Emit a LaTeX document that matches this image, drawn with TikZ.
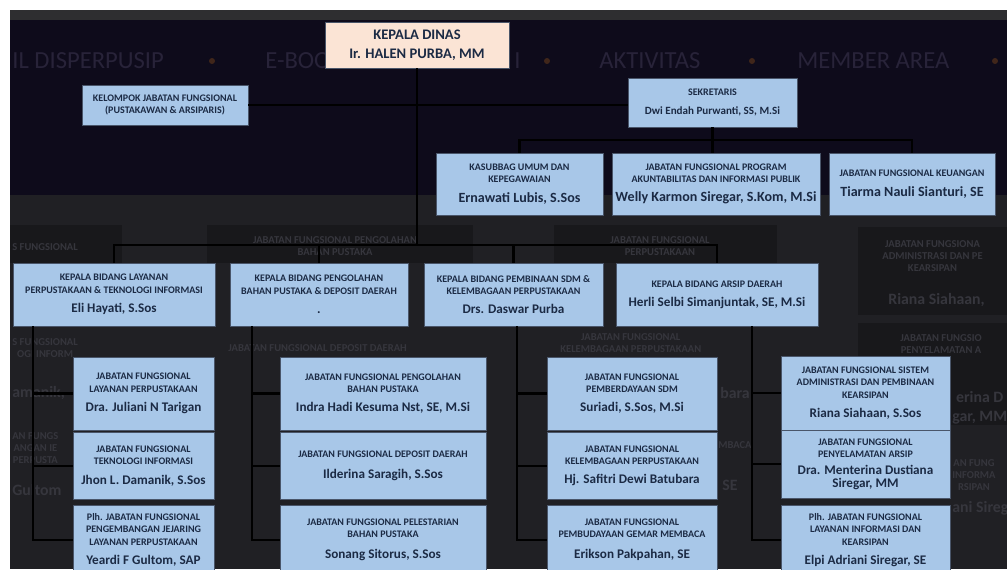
\documentclass[tikz,border=0pt]{standalone}
\usepackage{fontspec}
\setmainfont{Carlito}
\usetikzlibrary{positioning}
\definecolor{boxblue}{HTML}{A8C7E8}
\definecolor{peach}{HTML}{FBE4D5}
\definecolor{ink}{HTML}{1B2A44}
\definecolor{navy}{HTML}{0E0B1B}
\definecolor{panel}{HTML}{202024}
\definecolor{topbar}{HTML}{2E2E30}
\definecolor{ghostbox}{HTML}{18181B}
\definecolor{ghosttext}{HTML}{36363D}
\definecolor{menutext}{HTML}{282339}
\definecolor{caret}{HTML}{40261A}
\newcommand{\hd}{\fontsize{5.7}{7}\selectfont}
\newcommand{\nm}{\fontsize{7.5}{9}\selectfont}
\newcommand{\nmbig}{\fontsize{8}{9.5}\selectfont}
\tikzset{
  post/.style={draw=ink!80, line width=0.4pt, fill=boxblue, text=ink, font=\bfseries\hd, align=center, inner sep=0pt},
  boxsize/.style 2 args={minimum width=#1*0.02cm, minimum height=#2*0.02cm},
  link/.style={draw=black, line width=1.3pt},
  ghost/.style={text=ghosttext, font=\bfseries\fontsize{6}{7}\selectfont, inner sep=0pt, align=center},
  bigghost/.style={ghost, font=\bfseries\fontsize{9}{11}\selectfont},
  menu/.style={text=menutext, font=\fontsize{14}{14}\selectfont, inner sep=0pt}
}
\begin{document}
\begin{tikzpicture}[x=0.02cm,y=-0.02cm]
\clip (0,0) rectangle (1007,569);
\fill[white] (0,0) rectangle (1007,569);
\fill[topbar] (10,10) rectangle (1007,20);
\fill[navy] (10,20) rectangle (1007,195);
\fill[panel] (10,195) rectangle (1007,569);

% menu behind the chart
\node[menu, anchor=west] (mprofil) at (12,61) {IL DISPERPUSIP};
\node[menu, anchor=west] (mebook) at (265,61) {E-BOOK};
\node[menu, anchor=west] (mlain) at (514,61) {I};
\node[menu, anchor=west] (maktiv) at (599,61) {AKTIVITAS};
\node[menu, anchor=west] (mmember) at (797,61) {MEMBER AREA};
\foreach \u in {212,547,752,995}
  \fill[caret] (\u,61) circle (3);

% ghost chart
\fill[ghostbox] (10,225) rectangle (122,263);
\fill[ghostbox] (207,225) rectangle (473,263);
\fill[ghostbox] (554,225) rectangle (777,263);
\fill[ghostbox] (858,227) rectangle (1007,315);
\fill[ghostbox] (858,323) rectangle (1007,425);
\node[ghost, anchor=west] (g1) at (12,247) {S FUNGSIONAL};
\node[ghost] (g2) at (335,246) {JABATAN FUNGSIONAL PENGOLAHAN\\BAHAN PUSTAKA};
\node[ghost] (g3) at (660,246) {JABATAN FUNGSIONAL\\PERPUSTAKAAN};
\node[ghost, anchor=west] (g4) at (882,256) {JABATAN FUNGSIONA\\ADMINISTRASI DAN PE\\KEARSIPAN};
\node[bigghost, anchor=west] (g5) at (888,300) {Riana Siahaan,};
\node[ghost, anchor=west] (g6) at (900,344) {JABATAN FUNGSIO\\PENYELAMATAN A};
\node[bigghost, anchor=west] (g7) at (952,408) {erina D\\gar, MM};
\node[ghost, anchor=west] (g8) at (952,475) {AN FUNG\\INFORMA\\RSIPAN};
\node[bigghost, anchor=west] (g9) at (952,508) {ani Sireg};
\node[ghost, anchor=west] (g10) at (12,348) {S FUNGSIONAL\\OGI INFORM};
\node[bigghost, anchor=west] (g11) at (12,393) {amanik,};
\node[ghost, anchor=west] (g12) at (12,448) {AN FUNGS\\ANGAN IE\\PERPUSTA};
\node[bigghost, anchor=west] (g13) at (12,490) {Gultom};
\node[ghost, anchor=west] (g14) at (228,348) {JABATAN FUNGSIONAL DEPOSIT DAERAH};
\node[ghost, anchor=west] (g15) at (560,343) {JABATAN FUNGSIONAL\\KELEMBAGAAN PERPUSTAKAAN};
\node[bigghost, anchor=west] (g16) at (720,393) {bara};
\node[ghost, anchor=west] (g17) at (718,445) {MBACA};
\node[bigghost, anchor=west] (g18) at (722,485) {SE};

% top
\node[post, fill=peach, boxsize={184}{46}, font=\bfseries\fontsize{8.3}{10.5}\selectfont] (kadis) at (417,45)
  {KEPALA DINAS\\Ir. HALEN PURBA, MM};
\node[post, boxsize={166}{40}] (kelompok) at (165,105)
  {KELOMPOK JABATAN FUNGSIONAL\\(PUSTAKAWAN \& ARSIPARIS)};
\node[post, boxsize={169}{49}] (sekretaris) at (712.5,102.5)
  {SEKRETARIS\\[4pt]\fontsize{6.3}{7.5}\selectfont Dwi Endah Purwanti, SS, M.Si};

% sekretariat
\node[post, boxsize={167}{62}] (kasubbag) at (519.5,184)
  {KASUBBAG UMUM DAN\\KEPEGAWAIAN\\[4pt]\nmbig Ernawati Lubis, S.Sos};
\node[post, boxsize={208}{62}] (jfprogram) at (716,184)
  {JABATAN FUNGSIONAL PROGRAM\\AKUNTABILITAS DAN INFORMASI PUBLIK\\[4pt]\nmbig Welly Karmon Siregar, S.Kom, M.Si};
\node[post, boxsize={166}{62}] (jfkeuangan) at (912,184)
  {JABATAN FUNGSIONAL KEUANGAN\\[4pt]\nmbig Tiarma Nauli Sianturi, SE};

% bidang
\node[post, boxsize={202}{63}] (bidlayanan) at (114,294.5)
  {KEPALA BIDANG LAYANAN\\PERPUSTAKAAN \& TEKNOLOGI INFORMASI\\[4pt]\nm Eli Hayati, S.Sos};
\node[post, boxsize={178}{63}] (bidolah) at (319,294.5)
  {KEPALA BIDANG PENGOLAHAN\\BAHAN PUSTAKA \& DEPOSIT DAERAH\\[4pt]\nm .};
\node[post, boxsize={179}{63}] (bidsdm) at (513.5,294.5)
  {KEPALA BIDANG PEMBINAAN SDM \&\\KELEMBAGAAN PERPUSTAKAAN\\[4pt]\nm Drs. Daswar Purba};
\node[post, boxsize={202}{63}] (bidarsip) at (717,294.5)
  {KEPALA BIDANG ARSIP DAERAH\\[4pt]\nm Herli Selbi Simanjuntak, SE, M.Si};

% fungsional
\node[post, boxsize={141}{73}] (jflayanan) at (143.5,393.5)
  {JABATAN FUNGSIONAL\\LAYANAN PERPUSTAKAAN\\[4pt]\nm Dra. Juliani N Tarigan};
\node[post, boxsize={141}{67}] (jfti) at (143.5,466)
  {JABATAN FUNGSIONAL\\TEKNOLOGI INFORMASI\\[4pt]\nm Jhon L. Damanik, S.Sos};
\node[post, boxsize={141}{70}] (jfjejaring) at (143.5,540)
  {Plh. JABATAN FUNGSIONAL\\PENGEMBANGAN JEJARING\\LAYANAN PERPUSTAKAAN\\[4pt]\nm Yeardi F Gultom, SAP};
\node[post, boxsize={206}{73}] (jfolah) at (383,393.5)
  {JABATAN FUNGSIONAL PENGOLAHAN\\BAHAN PUSTAKA\\[4pt]\nm Indra Hadi Kesuma Nst, SE, M.Si};
\node[post, boxsize={206}{67}] (jfdeposit) at (383,466)
  {JABATAN FUNGSIONAL DEPOSIT DAERAH\\[5pt]\nm Ilderina Saragih, S.Sos};
\node[post, boxsize={206}{70}] (jflestari) at (383,540)
  {JABATAN FUNGSIONAL PELESTARIAN\\BAHAN PUSTAKA\\[5pt]\nm Sonang Sitorus, S.Sos};
\node[post, boxsize={170}{73}] (jfsdm) at (632,393.5)
  {JABATAN FUNGSIONAL\\PEMBERDAYAAN SDM\\[4pt]\nm Suriadi, S.Sos, M.Si};
\node[post, boxsize={170}{67}] (jflembaga) at (632,466)
  {JABATAN FUNGSIONAL\\KELEMBAGAAN PERPUSTAKAAN\\[4pt]\nm Hj. Safitri Dewi Batubara};
\node[post, boxsize={170}{70}] (jfgemar) at (632,540)
  {JABATAN FUNGSIONAL\\PEMBUDAYAAN GEMAR MEMBACA\\[5pt]\nm Erikson Pakpahan, SE};
\node[post, boxsize={169}{74}] (jfsistem) at (865.5,393)
  {JABATAN FUNGSIONAL SISTEM\\ADMINISTRASI DAN PEMBINAAN\\KEARSIPAN\\[4pt]\nm Riana Siahaan, S.Sos};
\node[post, boxsize={169}{68}] (jfselamat) at (865.5,464)
  {JABATAN FUNGSIONAL\\PENYELAMATAN ARSIP\\[3pt]\nm Dra. Menterina Dustiana\\\nm Siregar, MM};
\node[post, boxsize={169}{70}] (jfinfo) at (865.5,540)
  {Plh. JABATAN FUNGSIONAL\\LAYANAN INFORMASI DAN\\KEARSIPAN\\[4pt]\nm Elpi Adriani Siregar, SE};

% lines
\coordinate (sbus) at (712.5,140);
\coordinate (bbus) at (417,245);
\draw[link] (kadis.south) -- (bbus);
\draw[link] (kelompok.east) -- (kelompok.east -| sekretaris.west);
\draw[link] (sekretaris.south) -- (sekretaris.south |- jfprogram.north);
\draw[link] (kasubbag.north) |- (sbus) -| (jfkeuangan.north);
\draw[link] (bidlayanan.north) |- (bbus) -| (bidarsip.north);
\draw[link] (bbus -| bidolah.north) -- (bidolah.north);
\draw[link] (bbus -| bidsdm.north) -- (bidsdm.north);
\path (bidlayanan.south west) ++(20,0) coordinate (sp1);
\path (bidolah.south west) ++(22,0) coordinate (sp2);
\path (bidsdm.south west) ++(93,0) coordinate (sp3);
\path (bidarsip.south west) ++(136,0) coordinate (sp4);
\foreach \s/\a/\b/\c in {sp1/jflayanan/jfti/jfjejaring, sp2/jfolah/jfdeposit/jflestari,
    sp3/jfsdm/jflembaga/jfgemar, sp4/jfsistem/jfselamat/jfinfo}
  {
    \draw[link] (\s) |- (\c.west);
    \draw[link] (\s |- \a.west) -- (\a.west);
    \draw[link] (\s |- \b.west) -- (\b.west);
  }
\end{tikzpicture}
\end{document}
